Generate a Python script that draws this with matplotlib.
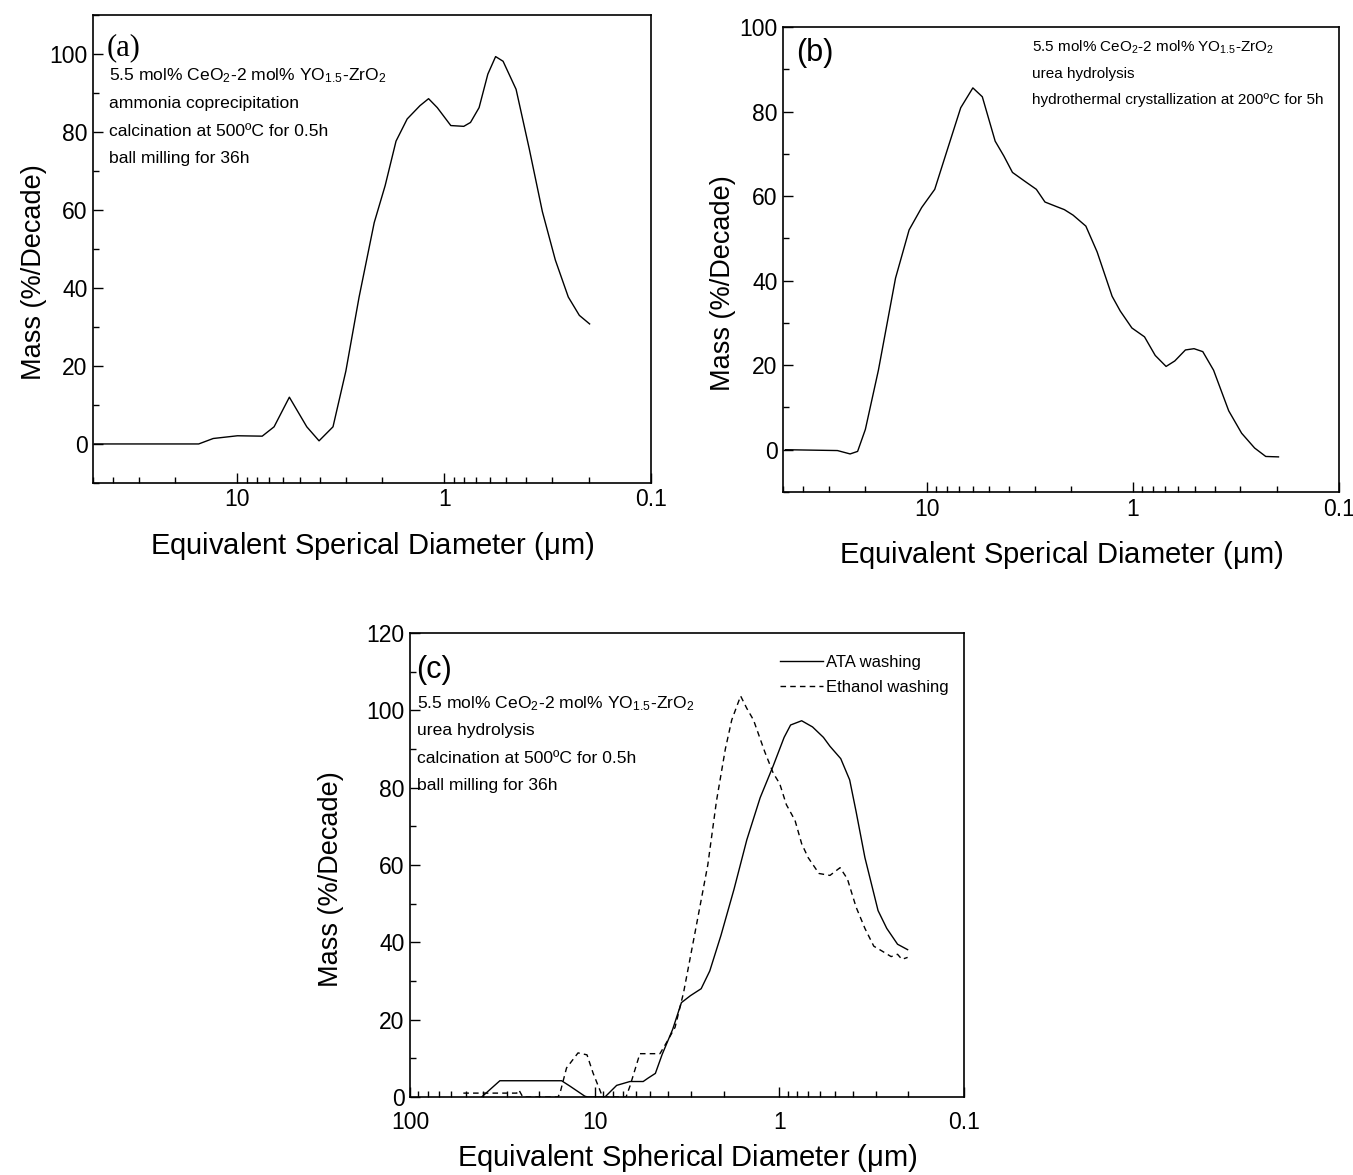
import matplotlib
matplotlib.use("Agg")
import matplotlib.pyplot as plt
from matplotlib.ticker import LogLocator, FuncFormatter, MultipleLocator, NullFormatter

plt.rcParams["font.family"] = ["Liberation Sans", "DejaVu Sans"]
plt.rcParams["mathtext.fontset"] = "custom"
plt.rcParams["mathtext.rm"] = "Liberation Sans"
plt.rcParams["mathtext.default"] = "regular"

# (a) ammonia coprecipitation
d_a = [49.2, 15.4, 13.1, 10, 7.59, 6.65, 5.61, 4.62, 4.03, 3.45, 2.99, 2.58, 2.18,
       1.93, 1.71, 1.51, 1.31, 1.19, 1.08, 0.929, 0.804, 0.746, 0.678, 0.615, 0.564,
       0.519, 0.449, 0.388, 0.335, 0.290, 0.251, 0.222, 0.198]
m_a = [0, 0, 1.4, 2.1, 2.0, 4.4, 12.0, 4.4, 0.8, 4.4, 18.7, 37.7, 56.8,
       66.3, 77.7, 83.4, 86.8, 88.6, 86.3, 81.7, 81.5, 82.5, 86.3, 94.9, 99.4,
       98.2, 91.0, 75.8, 59.6, 47.2, 37.7, 33.0, 30.8]

# (b) urea hydrolysis + hydrothermal crystallization
d_b = [48.6, 27.2, 23.6, 21.7, 19.9, 17.2, 14.2, 12.2, 10.6, 9.16, 7.93, 6.85, 5.98,
       5.38, 4.66, 4.23, 3.84, 3.32, 2.94, 2.67, 2.37, 2.15, 1.95, 1.69, 1.49, 1.26,
       1.15, 1.01, 0.877, 0.778, 0.689, 0.625, 0.555, 0.504, 0.457, 0.405, 0.342,
       0.296, 0.256, 0.226, 0.196]
m_b = [0, -0.2, -1.0, -0.4, 4.8, 18.8, 40.6, 52.0, 57.3, 61.6, 71.2, 80.9, 85.6,
       83.5, 73.0, 69.5, 65.6, 63.4, 61.6, 58.6, 57.6, 56.8, 55.5, 52.9, 46.8, 36.3,
       32.8, 28.8, 26.7, 22.3, 19.7, 21.0, 23.6, 23.9, 23.2, 18.8, 9.2,
       3.9, 0.4, -1.6, -1.7]

# (c) ATA washing
d_ata = [40.9, 32.6, 15.1, 13.6, 11.3, 10.9, 8.79, 7.60, 6.44, 5.46, 5.13, 4.69,
         4.31, 3.78, 3.39, 3.03, 2.65, 2.38, 2.07, 1.76, 1.50, 1.27, 1.08, 0.942,
         0.869, 0.757, 0.661, 0.577, 0.532, 0.465, 0.416, 0.384, 0.344, 0.292,
         0.262, 0.229, 0.202]
m_ata = [0, 4.2, 4.2, 2.8, 0.2, 0, 0, 3.0, 4.0, 4.0, 4.9, 6.1,
         11.0, 17.5, 24.4, 26.2, 28.0, 32.6, 41.8, 53.7, 66.5, 77.4, 85.6, 93.0,
         96.2, 97.3, 95.7, 93.0, 90.7, 87.5, 82.0, 73.8, 61.9, 48.2,
         43.6, 39.5, 38.1]

# (c) ethanol washing
d_eth = [51.4, 26.4, 25.7, 24.5, 15.8, 15.4, 14.2, 12.3, 11.0, 10.2, 9.16, 8.91,
         6.76, 6.44, 5.69, 4.43, 4.09, 3.67, 3.30, 2.88, 2.44, 2.19, 1.96, 1.81,
         1.62, 1.50, 1.38, 1.20, 1.08, 0.995, 0.916, 0.822, 0.757, 0.698, 0.610,
         0.532, 0.469, 0.428, 0.384, 0.344, 0.308, 0.277, 0.248, 0.229, 0.217, 0.202]
m_eth = [1.0, 1.0, 1.8, 0, 0, 1.0, 7.5, 11.4, 10.9, 6.2, 0.6, 0,
         0, 2.8, 11.2, 11.2, 14.0, 18.0, 27.0, 41.8, 60.0, 76.5, 90.0, 97.5,
         103.7, 100.5, 97.5, 89.3, 83.8, 81.0, 75.6, 71.5, 65.5, 61.9, 57.8,
         57.3, 59.3, 56.4, 49.1, 43.6, 39.0, 37.7, 36.3, 36.9, 35.6, 36.1]

comp = r"5.5 mol% CeO$_2$-2 mol% YO$_{1.5}$-ZrO$_2$"
notes_a = [comp, "ammonia coprecipitation", "calcination at 500ºC for 0.5h",
           "ball milling for 36h"]
notes_b = [comp, "urea hydrolysis", "hydrothermal crystallization at 200ºC for 5h"]
notes_c = [comp, "urea hydrolysis", "calcination at 500ºC for 0.5h",
           "ball milling for 36h"]


def style(ax, xlim, ylim, xlabel, xpad, ylab_xy, xtick_pad=4):
    ax.set_xscale("log")
    ax.set_xlim(*xlim)
    ax.set_ylim(*ylim)
    ax.xaxis.set_major_locator(LogLocator(base=10))
    ax.xaxis.set_minor_locator(LogLocator(base=10, subs=range(2, 10)))
    ax.xaxis.set_major_formatter(FuncFormatter(lambda v, p: f"{v:g}"))
    ax.xaxis.set_minor_formatter(NullFormatter())
    ax.set_yticks([v for v in range(0, 121, 20) if ylim[0] <= v <= ylim[1]])
    ax.yaxis.set_minor_locator(MultipleLocator(10))
    ax.tick_params(which="both", direction="in", top=False, right=False,
                   labelsize=16.5, width=1.0, pad=4)
    ax.tick_params(axis="x", pad=xtick_pad)
    ax.tick_params(which="major", length=7)
    ax.tick_params(which="minor", length=4)
    for s in ax.spines.values():
        s.set_linewidth(1.2)
    ax.set_xlabel(xlabel, fontsize=21, labelpad=xpad)
    ax.set_ylabel("Mass (%/Decade)", fontsize=19.5)
    ax.yaxis.set_label_coords(*ylab_xy)


def notes(ax, lines, x, y0, dy, size):
    for i, t in enumerate(lines):
        ax.text(x, y0 - i * dy, t, transform=ax.transAxes, fontsize=size,
                va="center", ha="left")


fig = plt.figure(figsize=(13.53, 11.75), dpi=100)

ax = fig.add_axes([0.0687, 0.589, 0.4124, 0.398])
ax.plot(d_a, m_a, color="black", lw=1.0)
style(ax, (50, 0.1), (-10, 110), r"Equivalent Sperical Diameter ($\mu$m)", 13,
      (-0.083, 0.45))
ax.text(0.025, 0.93, "(a)", transform=ax.transAxes, fontsize=22,
        family="Liberation Serif", va="center")
notes(ax, notes_a, 0.028, 0.87, 0.059, 12.6)

ax = fig.add_axes([0.5787, 0.5813, 0.4107, 0.3957])
ax.plot(d_b, m_b, color="black", lw=1.0)
style(ax, (50, 0.1), (-10, 100), r"Equivalent Sperical Diameter ($\mu$m)", 13,
      (-0.085, 0.45))
ax.text(0.023, 0.945, "(b)", transform=ax.transAxes, fontsize=22, va="center")
notes(ax, notes_b, 0.449, 0.957, 0.057, 11.0)

ax = fig.add_axes([0.303, 0.0664, 0.4095, 0.3949])
ax.plot(d_ata, m_ata, color="black", lw=1.0, label="ATA washing")
ax.plot(d_eth, m_eth, color="black", lw=1.0, ls=(0, (4, 3)), label="Ethanol washing")
style(ax, (100, 0.1), (0, 120), r"Equivalent Spherical Diameter ($\mu$m)", 6,
      (-0.119, 0.47), xtick_pad=10)
ax.text(0.012, 0.92, "(c)", transform=ax.transAxes, fontsize=22, va="center")
notes(ax, notes_c, 0.012, 0.848, 0.059, 12.6)
ax.legend(loc="upper right", frameon=False, fontsize=12, handlelength=2.6,
          handletextpad=0.2, labelspacing=0.6, bbox_to_anchor=(1.0, 0.985))

fig.savefig("out.png", dpi=100)
